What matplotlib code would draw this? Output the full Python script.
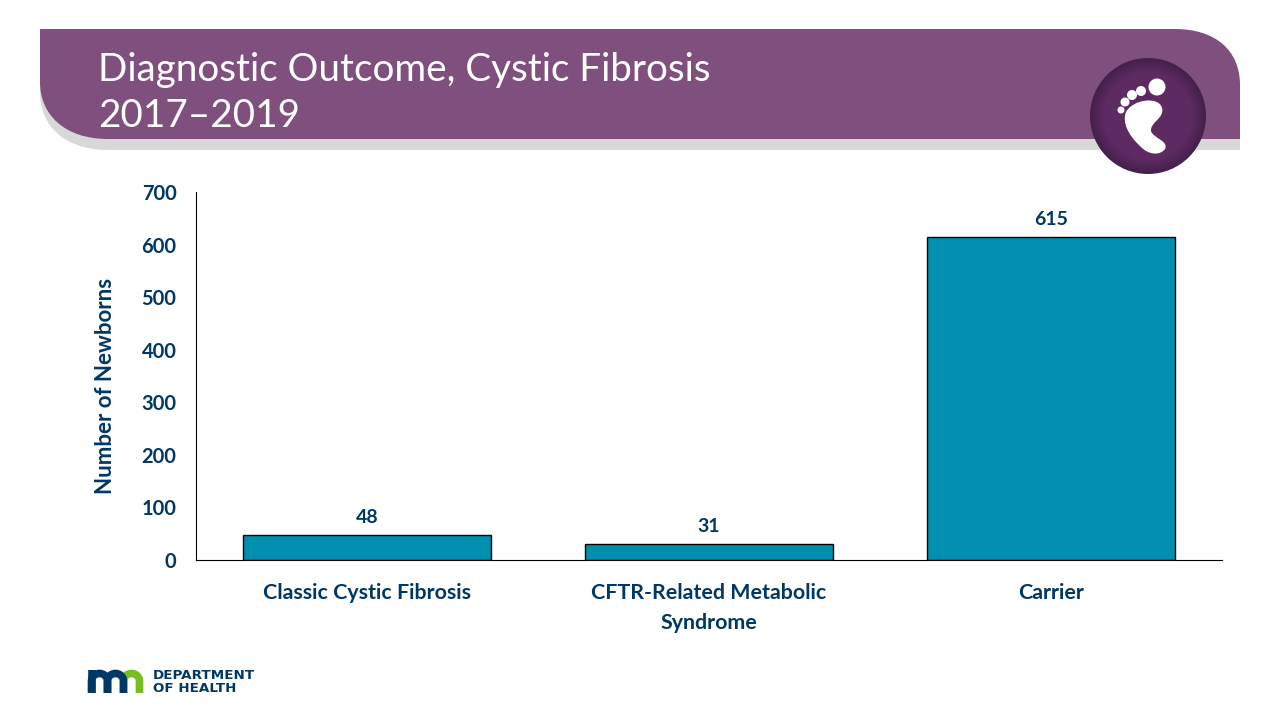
import matplotlib
matplotlib.use('Agg')
import matplotlib.pyplot as plt
from matplotlib.patches import PathPatch, Circle, Ellipse
from matplotlib.path import Path
import numpy as np

plt.rcParams['font.family'] = ['Lato', 'DejaVu Sans']

categories = ['Classic Cystic Fibrosis', 'CFTR-Related Metabolic\nSyndrome', 'Carrier']
newborns = [48, 31, 615]
y_ticks = [0, 100, 200, 300, 400, 500, 600, 700]

NAVY = '#003865'
BAR = '#008FAE'
PLUM = '#7F4F7D'
GREEN = '#78BE21'


def banner_path(dy=0):
    # top right and bottom left corners are rounded, others square
    verts = [(40, 29 + dy), (1175, 29 + dy),
             (1215, 29 + dy), (1240, 50 + dy), (1240, 85 + dy),
             (1240, 139 + dy), (108, 139 + dy),
             (65, 139 + dy), (40, 115 + dy), (40, 82 + dy),
             (40, 29 + dy)]
    codes = [Path.MOVETO, Path.LINETO, Path.CURVE4, Path.CURVE4, Path.CURVE4,
             Path.LINETO, Path.LINETO, Path.CURVE4, Path.CURVE4, Path.CURVE4,
             Path.CLOSEPOLY]
    return Path(verts, codes)


def arch(axis, x_left, x_right, color):
    t = np.linspace(np.pi, 0, 30)
    mid = (x_left + x_right) / 2
    rx = (x_right - x_left) / 2
    xs = np.r_[x_left, mid + rx * np.cos(t), x_right]
    ys = np.r_[693, 681 - 7.5 * np.sin(t), 693]
    axis.plot(xs, ys, color=color, lw=5.5, solid_capstyle='butt')


fig = plt.figure(figsize=(12.8, 7.2), dpi=100)

# full slide layer in pixel coordinates for the header and logo
bg = fig.add_axes([0, 0, 1, 1])
bg.set_xlim(0, 1280)
bg.set_ylim(720, 0)
bg.axis('off')

bg.add_patch(PathPatch(banner_path(11), fc='#D9D8D8', ec='none'))
bg.add_patch(PathPatch(banner_path(0), fc=PLUM, ec='none'))
bg.text(98, 70, 'Diagnostic Outcome, Cystic Fibrosis', color='white', fontsize=27.8, va='center', ha='left')
bg.text(98, 116, '2017\u20132019', color='white', fontsize=27.8, va='center', ha='left')

# foot badge, dark rim fading into the flat centre
edge = np.array(matplotlib.colors.to_rgb('#45204C'))
centre = np.array(matplotlib.colors.to_rgb('#5E2A62'))
for i, r in enumerate(np.linspace(58, 44, 15)):
    bg.add_patch(Circle((1148, 116), r, fc=edge + (centre - edge) * i / 14, ec='none'))
for cx, cy, r in [(1157, 87, 8.5), (1141, 91, 5), (1132, 95, 5), (1125, 102, 4.5), (1121, 110, 3.5)]:
    bg.add_patch(Ellipse((cx, cy), 2 * r, 2 * r, fc='white', ec='none'))
foot = [(1126, 112), (1133, 99), (1159, 96), (1162, 108), (1165, 118), (1150, 122), (1151, 131),
        (1153, 138), (1169, 141), (1165, 149), (1160, 156), (1148, 155), (1140, 146),
        (1128, 135), (1122, 122), (1126, 112)]
bg.add_patch(PathPatch(Path(foot, [Path.MOVETO] + [Path.CURVE4] * 15), fc='white', ec='none'))

# MN logo
arch(bg, 123.5, 139.5, GREEN)
arch(bg, 107.5, 123.5, NAVY)
arch(bg, 91.5, 107.5, NAVY)
bg.plot([91.5, 91.5], [670, 693], color=NAVY, lw=5.5, solid_capstyle='butt')
bg.text(153, 675.5, 'DEPARTMENT', color=NAVY, fontsize=9.7, family='DejaVu Sans', fontweight='bold', va='center', ha='left')
bg.text(153, 689, 'OF HEALTH', color=NAVY, fontsize=9.7, family='DejaVu Sans', fontweight='bold', va='center', ha='left')

# chart
ax = fig.add_axes([196 / 1280, 1 - 560 / 720, 1026 / 1280, 368 / 720])
ax.patch.set_alpha(0)
x = np.arange(len(categories))
bars = ax.bar(x, newborns, width=0.725, color=BAR, edgecolor='black', linewidth=1)
ax.bar_label(bars, padding=6, color=NAVY, fontsize=14, fontweight='bold')
ax.set_xlim(-0.5, 2.5)
ax.set_ylim(0, 700)
ax.set_yticks(y_ticks)
ax.set_xticks(x)
ax.set_xticklabels(categories, linespacing=1.6)
ax.tick_params(axis='x', length=0, pad=16.5, labelcolor=NAVY, labelsize=15.4)
ax.tick_params(axis='y', length=0, pad=14, labelcolor=NAVY, labelsize=14.5)
for lab in ax.get_xticklabels() + ax.get_yticklabels():
    lab.set_fontweight('bold')
ax.spines['top'].set_visible(False)
ax.spines['right'].set_visible(False)
bg.text(106, 386, 'Number of Newborns', color=NAVY, fontsize=16, fontweight='bold', rotation=90, va='center', ha='center')

fig.savefig('out.png', dpi=100)
